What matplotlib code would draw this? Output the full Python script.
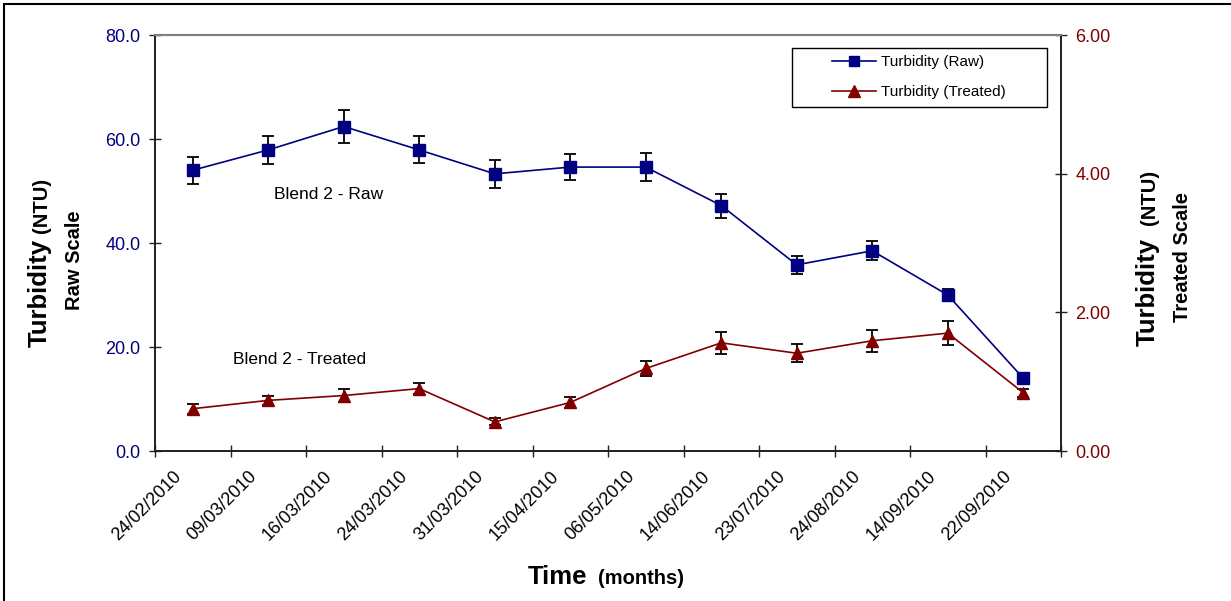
import matplotlib
matplotlib.use("Agg")
import matplotlib.pyplot as plt
from matplotlib.patches import Rectangle
from matplotlib.lines import Line2D
import matplotlib.transforms as mtransforms
import numpy as np

plt.rcParams['font.family'] = ['Liberation Sans', 'DejaVu Sans']

dates = ["24/02/2010", "09/03/2010", "16/03/2010", "24/03/2010", "31/03/2010",
         "15/04/2010", "06/05/2010", "14/06/2010", "23/07/2010", "24/08/2010",
         "14/09/2010", "22/09/2010"]
raw = [54.0, 57.9, 62.4, 57.9, 53.3, 54.6, 54.6, 47.2, 35.8, 38.5, 30.0, 14.0]
raw_err = [2.6, 2.7, 3.1, 2.6, 2.7, 2.5, 2.7, 2.3, 1.7, 1.8, 1.1, 0.8]
treated = [0.61, 0.73, 0.80, 0.90, 0.42, 0.70, 1.19, 1.56, 1.41, 1.59, 1.70, 0.84]
treated_err = [0.07, 0.07, 0.09, 0.08, 0.05, 0.08, 0.11, 0.16, 0.13, 0.16, 0.17, 0.06]

raw_ticks = [0, 20, 40, 60, 80]
treated_ticks = [0, 2, 4, 6]

NAVY = "#000080"
MAROON = "#800000"
W, H = 1231, 601

fig = plt.figure(figsize=(W / 100, H / 100), dpi=100)
fig.patch.set_facecolor("white")

L, R, T, B = 155, 1061, 35, 451
ax = fig.add_axes([L / W, (H - B) / H, (R - L) / W, (B - T) / H])
ax2 = ax.twinx()

x = np.arange(len(dates))

ax.errorbar(x, raw, yerr=raw_err, color=NAVY, marker='s', ms=8, lw=1.2,
            ecolor='black', elinewidth=1.3, capsize=4.5, capthick=1.3, zorder=3)
ax2.errorbar(x, treated, yerr=treated_err, color=MAROON, marker='^', ms=9, lw=1.2,
             ecolor='black', elinewidth=1.3, capsize=4.5, capthick=1.3, zorder=3)

ax.set_xlim(-0.5, len(dates) - 0.5)
ax.set_ylim(0, 80)
ax2.set_ylim(0, 6)

ax.set_yticks(raw_ticks)
ax.set_yticklabels([f"{v:.1f}" for v in raw_ticks])
ax2.set_yticks(treated_ticks)
ax2.set_yticklabels([f"{v:.2f}" for v in treated_ticks])

# category labels (drawn as text so they can be offset like Excel's)
ax.set_xticks(x)
ax.set_xticklabels([])
ax.tick_params(axis='x', which='major', length=0)
lab_tr = ax.get_xaxis_transform() + mtransforms.ScaledTranslation(-0.20, -0.165, fig.dpi_scale_trans)
for xi, d in zip(x, dates):
    ax.text(xi, 0, d, transform=lab_tr, rotation=45, ha='right', va='top',
            rotation_mode='anchor', fontsize=13, clip_on=False)

ax.set_xticks(np.arange(-0.5, len(dates), 1.0), minor=True)
ax.tick_params(axis='x', which='minor', direction='inout', length=9, width=1, color='#222222')

ax.tick_params(axis='y', direction='inout', length=9, width=1, color='#222222',
               labelcolor=NAVY, labelsize=13, pad=6)
ax2.tick_params(axis='y', direction='inout', length=9, width=1, color='#222222',
                labelcolor=MAROON, labelsize=13, pad=6)

for a in (ax, ax2):
    a.spines['top'].set_color('#808080')
    a.spines['top'].set_linewidth(1.5)
    for s in ('left', 'right', 'bottom'):
        a.spines[s].set_color('#222222')
        a.spines[s].set_linewidth(1.3)

# annotations
ax.text(1.08, 49.4, "Blend 2 - Raw", fontsize=12.5, ha='left', va='center')
ax.text(0.53, 17.5, "Blend 2 - Treated", fontsize=12.5, ha='left', va='center')

# legend
handles = [Line2D([], [], color=NAVY, marker='s', ms=7, lw=1.2),
           Line2D([], [], color=MAROON, marker='^', ms=8, lw=1.2)]
leg = ax2.legend(handles, ["Turbidity (Raw)", "Turbidity (Treated)"],
                 loc='upper left', bbox_to_anchor=((832 - L) / (R - L), (B - 55) / (B - T)),
                 frameon=False, fontsize=11, handlelength=2.9, handletextpad=0.3,
                 labelspacing=1.05, borderaxespad=0, borderpad=0)
frame = Rectangle(((792 - L) / (R - L), (B - 107) / (B - T)), (1047 - 792) / (R - L),
                  (107 - 48) / (B - T), transform=ax2.transAxes, facecolor='white',
                  edgecolor='black', lw=1.0, zorder=4)
ax2.add_patch(frame)
leg.set_zorder(5)

BIG, SMALL = 18.5, 14.5
# axis titles (mixed sizes)
fig.text(40 / W, 1 - 293 / H, "Turbidity", rotation=90, fontsize=BIG, fontweight='bold',
         ha='center', va='center')
fig.text(42 / W, 1 - 205 / H, "(NTU)", rotation=90, fontsize=SMALL, fontweight='bold',
         ha='center', va='center')
fig.text(75 / W, 1 - 260 / H, "Raw Scale", rotation=90, fontsize=SMALL, fontweight='bold',
         ha='center', va='center')

fig.text(1148 / W, 1 - 292 / H, "Turbidity", rotation=90, fontsize=BIG, fontweight='bold',
         ha='center', va='center')
fig.text(1150 / W, 1 - 197 / H, "(NTU)", rotation=90, fontsize=SMALL, fontweight='bold',
         ha='center', va='center')
fig.text(1183 / W, 1 - 257 / H, "Treated Scale", rotation=90, fontsize=SMALL, fontweight='bold',
         ha='center', va='center')

fig.text(557 / W, 1 - 577 / H, "Time", fontsize=BIG, fontweight='bold', ha='center', va='center')
fig.text(641 / W, 1 - 579 / H, "(months)", fontsize=SMALL, fontweight='bold', ha='center', va='center')

# outer chart border
fig.patches.append(Rectangle((4 / W, -0.1), 1.2, (H - 4) / H + 0.1, transform=fig.transFigure,
                             facecolor='none', edgecolor='black', lw=1.5))

fig.savefig("out.png", dpi=100)
